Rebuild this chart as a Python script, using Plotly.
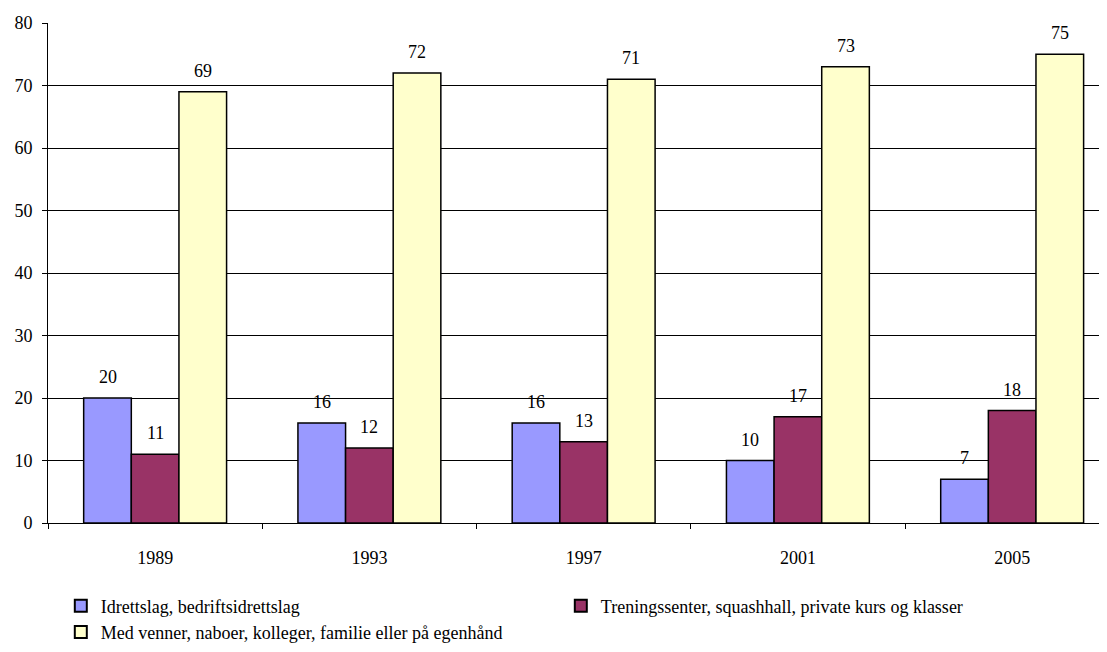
import plotly.graph_objects as go

years = ["1989", "1993", "1997", "2001", "2005"]
series_names = [
    "Idrettslag, bedriftsidrettslag",
    "Treningssenter, squashhall, private kurs og klasser",
    "Med venner, naboer, kolleger, familie eller på egenhånd",
]
idrettslag = [20, 16, 16, 10, 7]
treningssenter = [11, 12, 13, 17, 18]
med_venner = [69, 72, 71, 73, 75]
y_ticks = [0, 10, 20, 30, 40, 50, 60, 70, 80]

colors = ["#9999FF", "#993366", "#FFFFCC"]
font = "Liberation Serif"
bar_px = 47.6

fig = go.Figure()
all_series = [idrettslag, treningssenter, med_venner]
for name, vals, col in zip(series_names, all_series, colors):
    fig.add_trace(go.Bar(
        x=years, y=vals, name=name,
        marker=dict(color=col, line=dict(color="#000000", width=1.5)),
        hoverinfo="skip",
    ))

for i, vals in enumerate(all_series):
    for j, v in enumerate(vals):
        fig.add_annotation(
            x=j, y=v, xref="x", yref="y", text=str(v), showarrow=False,
            xshift=(i - 1) * bar_px, yshift=9, yanchor="bottom",
            font=dict(family=font, size=18, color="#000000"),
        )

fig.update_layout(
    width=1107, height=652,
    margin=dict(l=40, r=0, t=15, b=137, autoexpand=False),
    paper_bgcolor="white", plot_bgcolor="white",
    barmode="group", bargap=0.333, bargroupgap=0,
    font=dict(family=font, size=18, color="#000000"),
    showlegend=True,
    legend=dict(
        orientation="h", x=0.012, xanchor="left", y=-0.129, yanchor="top",
        entrywidth=455, entrywidthmode="pixels",
        font=dict(family=font, size=18, color="#000000"),
        itemsizing="constant", tracegroupgap=0,
    ),
    xaxis=dict(
        type="category", range=[-0.5, 4.48],
        showline=True, linecolor="#000000", linewidth=1,
        ticks="outside", tickson="boundaries", ticklen=5, tickcolor="#000000",
        ticklabelstandoff=18, automargin=False,
        showgrid=False, zeroline=False,
        tickfont=dict(family=font, size=18, color="#000000"),
    ),
    yaxis=dict(
        range=[0, 80], tickvals=y_ticks,
        showline=True, linecolor="#000000", linewidth=1,
        ticks="outside", ticklen=5, tickcolor="#000000",
        ticklabelstandoff=6, automargin=False,
        showgrid=True, gridcolor="#000000", gridwidth=1,
        zeroline=False,
        tickfont=dict(family=font, size=18, color="#000000"),
    ),
)

fig.write_html("out.html")
